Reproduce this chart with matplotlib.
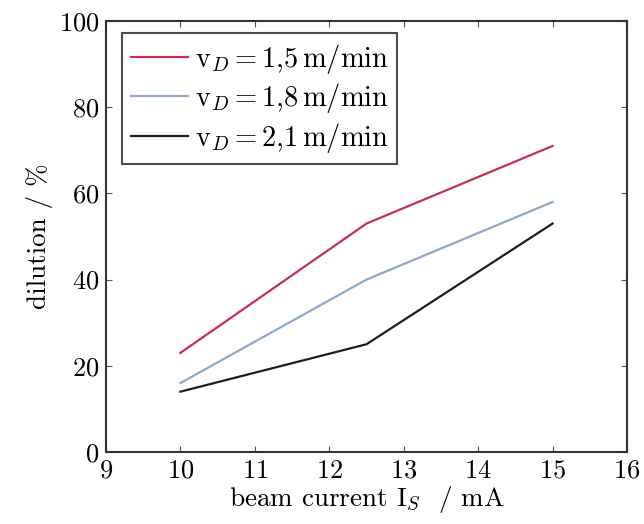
import matplotlib
matplotlib.use("Agg")
import matplotlib.pyplot as plt

plt.rcParams['font.family'] = 'serif'
plt.rcParams['font.serif'] = ['cmr10']
plt.rcParams['mathtext.fontset'] = 'cm'
plt.rcParams['axes.formatter.use_mathtext'] = True

x = [10, 12.5, 15]
d_15 = [23, 53, 71]
d_18 = [16, 40, 58]
d_21 = [14, 25, 53]
labels = [r'$\mathrm{v}_D = 1{,}5\,\mathrm{m/min}$',
          r'$\mathrm{v}_D = 1{,}8\,\mathrm{m/min}$',
          r'$\mathrm{v}_D = 2{,}1\,\mathrm{m/min}$']

fig = plt.figure(figsize=(6.44, 5.24), dpi=100)
ax = fig.add_axes([0.1646, 0.1374, 0.809, 0.8226])

ax.plot(x, d_15, color='#c4314f', lw=1.6, label=labels[0])
ax.plot(x, d_18, color='#8ea9c9', lw=1.6, label=labels[1])
ax.plot(x, d_21, color='#1e1e1e', lw=1.6, label=labels[2])

ax.set_xlim(9, 16)
ax.set_ylim(0, 100)
ax.set_xticks(range(9, 17))
ax.set_yticks(range(0, 101, 20))
ax.tick_params(direction='in', top=True, right=True, length=4, width=0.8,
               labelsize=19, color='#555555', pad=5)
for s in ax.spines.values():
    s.set_linewidth(1.5)
    s.set_color('#333333')

ax.set_xlabel(r'beam current $\mathrm{I}_S$  / mA', fontsize=19.5, labelpad=1)
ax.set_ylabel('dilution / %', fontsize=19.5, labelpad=4)

leg = ax.legend(loc='upper left', fontsize=20.5, frameon=True, fancybox=False,
                edgecolor='#222222', handlelength=2.0, handletextpad=0.25,
                borderpad=0.3, labelspacing=0.2, borderaxespad=0,
                bbox_to_anchor=(0.031, 0.972))
leg.get_frame().set_linewidth(1.5)

fig.savefig('out.png', dpi=100)
